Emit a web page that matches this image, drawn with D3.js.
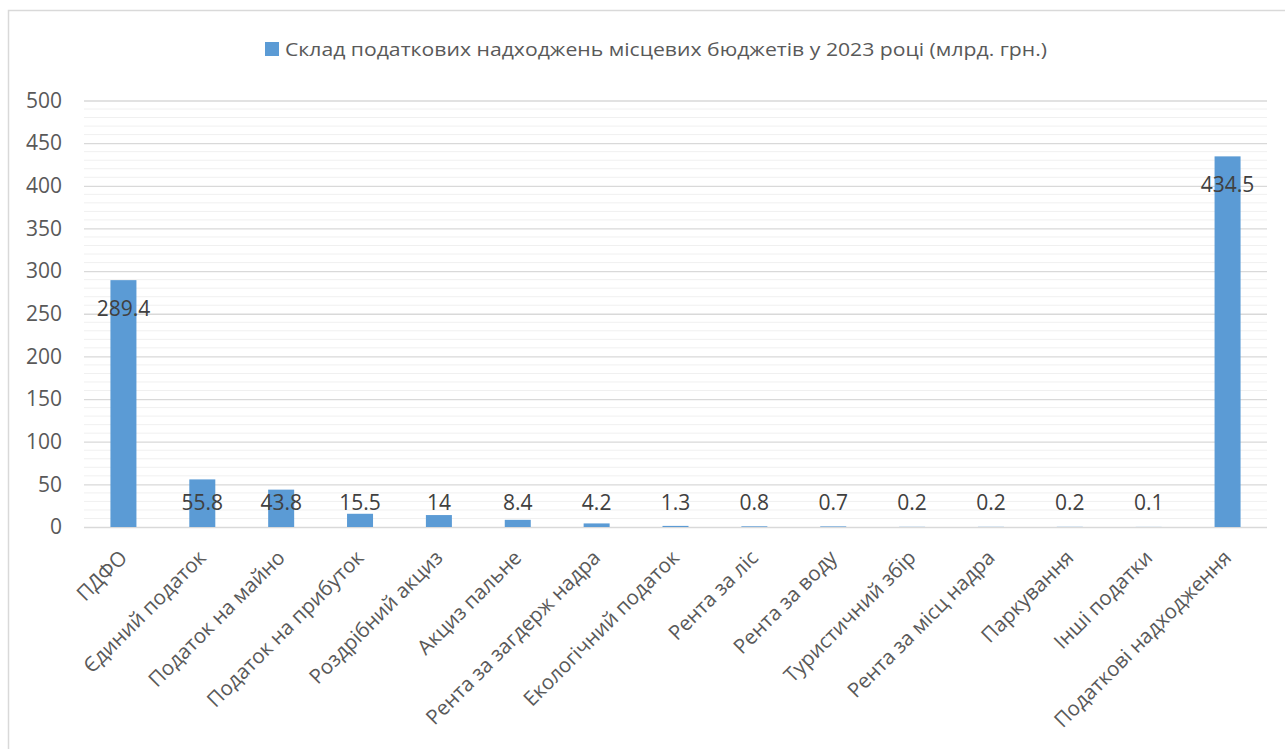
<!DOCTYPE html>
<html lang="uk">
<head>
<meta charset="utf-8">
<script src="https://cdn.jsdelivr.net/npm/d3@7"></script>
<style>
  html, body { margin: 0; padding: 0; background: #fff; }
  svg { display: block; }
</style>
</head>
<body>
<svg id="chart" width="1285" height="749"></svg>
<script>
// Tax revenue of local budgets in 2023, bn UAH
const categories = [
  "ПДФО", "Єдиний податок", "Податок на майно", "Податок на прибуток",
  "Роздрібний акциз", "Акциз пальне", "Рента за загдерж надра",
  "Екологічний податок", "Рента за ліс", "Рента за воду",
  "Туристичний збір", "Рента за місц надра", "Паркування",
  "Інші податки", "Податкові надходження"
];
const values = [289.4, 55.8, 43.8, 15.5, 14, 8.4, 4.2, 1.3, 0.8, 0.7, 0.2, 0.2, 0.2, 0.1, 434.5];
const valueLabels = ["289.4", "55.8", "43.8", "15.5", "14", "8.4", "4.2", "1.3", "0.8", "0.7", "0.2", "0.2", "0.2", "0.1", "434.5"];
const yTicks = [0, 50, 100, 150, 200, 250, 300, 350, 400, 450, 500];
const seriesName = "Склад податкових надходжень місцевих бюджетів у 2023 році (млрд. грн.)";

const svg = d3.select("#chart");
const font = "'Open Sans', 'Noto Sans', sans-serif";
const barColor = "#5b9bd5";

// chart area frame
svg.append("rect")
  .attr("x", 8.5).attr("y", 10.5)
  .attr("width", 1300).attr("height", 760)
  .attr("fill", "none").attr("stroke", "#d9d9d9").attr("stroke-width", 1.5);

const plot = { left: 84, right: 1267, top: 100.5, bottom: 527 };

const x = d3.scaleBand().domain(categories).range([plot.left, plot.right]).padding(0);
const y = d3.scaleLinear().domain([0, 500]).range([plot.bottom, plot.top]);

// minor gridlines every 10
const minor = d3.range(0, 501, 10).filter(v => v % 50 !== 0);
svg.append("g").selectAll("line").data(minor).join("line")
  .attr("x1", plot.left).attr("x2", plot.right)
  .attr("y1", d => y(d)).attr("y2", d => y(d))
  .attr("stroke", "#f0f0f0").attr("stroke-width", 1);

// major gridlines + value axis
const yAxis = d3.axisLeft(y).tickValues(yTicks).tickSize(-(plot.right - plot.left)).tickPadding(22);
const gy = svg.append("g").attr("transform", `translate(${plot.left},0)`).call(yAxis);
gy.select(".domain").remove();
gy.selectAll(".tick line").attr("stroke", "#d9d9d9").attr("stroke-width", 1.3);
gy.selectAll(".tick text")
  .attr("fill", "#595959").attr("font-family", font).attr("font-size", 21);

// bars
const barW = 26;
svg.append("g").selectAll("rect").data(values).join("rect")
  .attr("x", (d, i) => x(categories[i]) + x.bandwidth() / 2 - barW / 2)
  .attr("width", barW)
  .attr("y", d => y(d))
  .attr("height", d => y(0) - y(d))
  .attr("fill", barColor);

// data labels (inside end, kept above the baseline)
svg.append("g").selectAll("text").data(values).join("text")
  .attr("x", (d, i) => x(categories[i]) + x.bandwidth() / 2)
  .attr("y", d => Math.min(y(d) + 36, y(0) - 17))
  .attr("text-anchor", "middle")
  .attr("fill", "#404040").attr("font-family", font).attr("font-size", 21)
  .text((d, i) => valueLabels[i]);

// category labels, rotated
svg.append("g").selectAll("text").data(categories).join("text")
  .attr("transform", d => `translate(${x(d) + x.bandwidth() / 2 + 5},${plot.bottom + 32}) rotate(-45)`)
  .attr("text-anchor", "end")
  .attr("fill", "#595959").attr("font-family", font).attr("font-size", 20.5)
  .text(d => d);

// legend
const lg = svg.append("g");
lg.append("rect").attr("x", 265).attr("y", 42).attr("width", 14).attr("height", 14).attr("fill", barColor);
lg.append("text")
  .attr("x", 285).attr("y", 56)
  .attr("fill", "#595959").attr("font-family", font).attr("font-size", 19)
  .attr("textLength", 762).attr("lengthAdjust", "spacingAndGlyphs")
  .text(seriesName);
</script>
</body>
</html>
